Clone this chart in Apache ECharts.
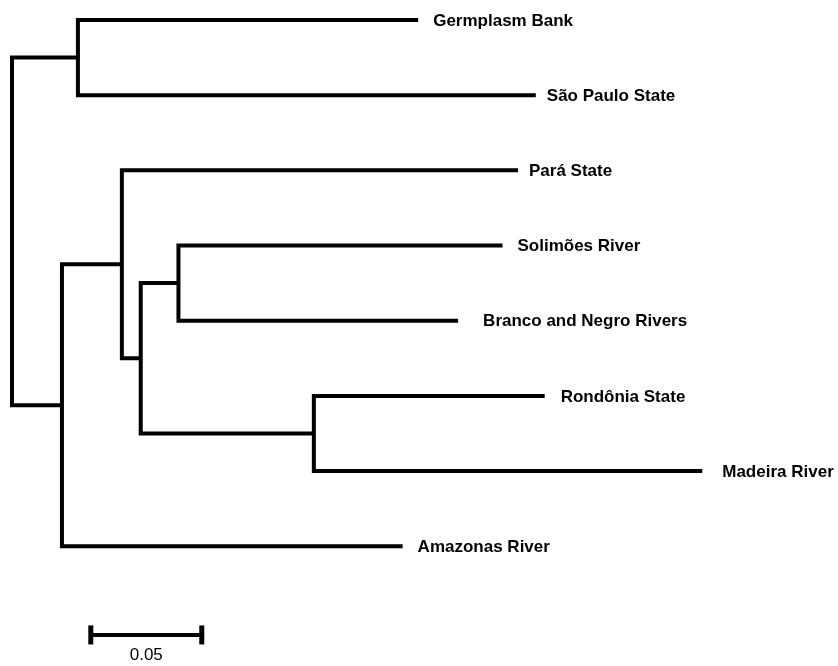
<!DOCTYPE html>
<html>
<head>
<meta charset="utf-8">
<style>
  html, body { margin: 0; padding: 0; background: #fff; }
  #chart { width: 838px; height: 666px; }
</style>
<script src="https://cdn.jsdelivr.net/npm/echarts@6/dist/echarts.min.js"></script>
</head>
<body>
<div id="chart"></div>
<script>
// Leaves, top to bottom, with their distance from the root
const leafNames = [
  'Germplasm Bank',
  'São Paulo State',
  'Pará State',
  'Solimões River',
  'Branco and Negro Rivers',
  'Rondônia State',
  'Madeira River',
  'Amazonas River'
];
const leafDepths = [0.183, 0.236, 0.228, 0.221, 0.201, 0.240, 0.311, 0.176];

// Internal nodes: distance from the root and their two children
const nodeNames = ['root', 'n1', 'n2', 'n3', 'n4', 'n5', 'n6'];
const nodeDepths = [0, 0.0297, 0.0225, 0.0495, 0.058, 0.075, 0.136];
const nodeChildren = [
  ['n1', 'n2'],
  ['Germplasm Bank', 'São Paulo State'],
  ['n3', 'Amazonas River'],
  ['Pará State', 'n4'],
  ['n5', 'n6'],
  ['Solimões River', 'Branco and Negro Rivers'],
  ['Rondônia State', 'Madeira River']
];

// Scale bar
const scaleLength = 0.05;
const scaleLabel = '0.05';

// Style: pixel gap between each tip and its label
const labelGaps = [15, 11, 11, 15, 25, 16, 20, 15];

// ---- layout of the tree in data space (x = distance, y = leaf row) ----
const pos = {};
leafNames.forEach((n, i) => { pos[n] = { x: leafDepths[i], y: i }; });
function place(name) {
  if (pos[name]) return pos[name];
  const k = nodeNames.indexOf(name);
  const ys = nodeChildren[k].map(c => place(c).y);
  pos[name] = { x: nodeDepths[k], y: (Math.min(...ys) + Math.max(...ys)) / 2 };
  return pos[name];
}
place('root');

// one bracket per internal node: [childA.x, childA.y, node.x, childB.x, childB.y]
const brackets = nodeNames.map((n, k) => {
  const a = pos[nodeChildren[k][0]], b = pos[nodeChildren[k][1]];
  return [a.x, a.y, pos[n].x, b.x, b.y];
});
const leafPoints = leafNames.map((n, i) => [leafDepths[i], i]);

const scaleBarStart = 0.0355;
const scaleBarRow = 8.18;

const chart = echarts.init(document.getElementById('chart'), null, { renderer: 'canvas' });
chart.setOption({
  animation: false,
  backgroundColor: '#ffffff',
  grid: { left: 12, right: 27, top: 20, bottom: 7 },
  xAxis: { type: 'value', min: 0, max: 0.36, show: false },
  yAxis: { type: 'value', min: 0, max: 8.5, inverse: true, show: false },
  series: [
    {
      type: 'custom',
      clip: false,
      data: brackets,
      encode: { x: [0, 2, 3], y: [1, 4] },
      renderItem: function (params, api) {
        const p1 = api.coord([api.value(0), api.value(1)]);
        const p2 = api.coord([api.value(2), api.value(1)]);
        const p3 = api.coord([api.value(2), api.value(4)]);
        const p4 = api.coord([api.value(3), api.value(4)]);
        return {
          type: 'polyline',
          shape: { points: [p1, p2, p3, p4] },
          style: { stroke: '#000', lineWidth: 4, fill: null, lineJoin: 'miter', lineCap: 'butt' }
        };
      }
    },
    {
      type: 'custom',
      clip: false,
      data: leafPoints,
      encode: { x: 0, y: 1 },
      renderItem: function (params, api) {
        const p = api.coord([api.value(0), api.value(1)]);
        return {
          type: 'text',
          x: p[0] + labelGaps[params.dataIndex],
          y: p[1] + 1,
          style: {
            text: leafNames[params.dataIndex],
            font: 'bold 17px "Liberation Sans", Arial, sans-serif',
            fill: '#000',
            textAlign: 'left',
            textVerticalAlign: 'middle'
          }
        };
      }
    },
    {
      type: 'custom',
      clip: false,
      data: [[scaleBarStart, scaleBarRow, scaleBarStart + scaleLength]],
      encode: { x: [0, 2], y: 1 },
      renderItem: function (params, api) {
        const a = api.coord([api.value(0), api.value(1)]);
        const b = api.coord([api.value(2), api.value(1)]);
        const st = { stroke: '#000', lineWidth: 4 };
        const cap = { stroke: '#000', lineWidth: 5 };
        return {
          type: 'group',
          children: [
            { type: 'line', shape: { x1: a[0], y1: a[1], x2: b[0], y2: b[1] }, style: st },
            { type: 'line', shape: { x1: a[0], y1: a[1] - 9.5, x2: a[0], y2: a[1] + 9.5 }, style: cap },
            { type: 'line', shape: { x1: b[0], y1: b[1] - 9.5, x2: b[0], y2: b[1] + 9.5 }, style: cap },
            {
              type: 'text',
              x: (a[0] + b[0]) / 2,
              y: a[1] + 20,
              style: {
                text: scaleLabel,
                font: '17px "Liberation Sans", Arial, sans-serif',
                fill: '#000',
                textAlign: 'center',
                textVerticalAlign: 'middle'
              }
            }
          ]
        };
      }
    }
  ]
});
</script>
</body>
</html>
